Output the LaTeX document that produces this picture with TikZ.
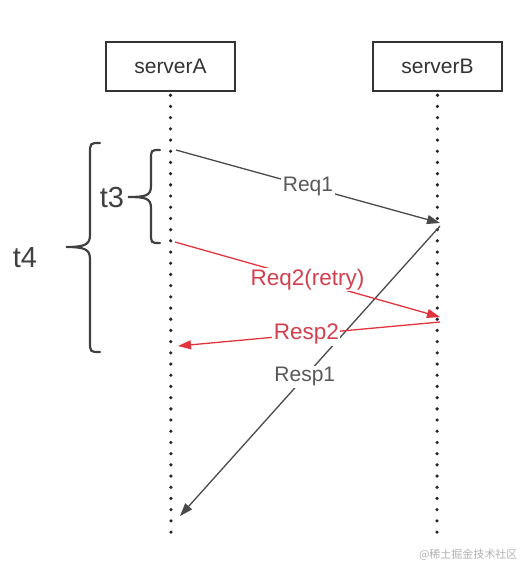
\documentclass[tikz,border=0pt]{standalone}
\usepackage{fontspec}
\setmainfont{Liberation Sans}
\newfontfamily\cjkfont{Noto Sans CJK SC}
\usetikzlibrary{arrows.meta}

\definecolor{msgred}{HTML}{E2343F}
\definecolor{labelred}{HTML}{D2404F}
\definecolor{msggray}{HTML}{4A4A4A}

\tikzset{
  server/.style={draw=black!80, line width=2.5pt, minimum width=129pt, minimum height=49pt,
    inner sep=0pt, text=black!80, font=\fontsize{21}{21}\selectfont},
  lifeline/.style={black!85, line width=3.6pt, dash pattern=on 0pt off 11.2pt, line cap=round},
  msg/.style={msggray, line width=1.3pt, -{Triangle[length=13pt,width=9pt]}},
  retry/.style={msgred, line width=1.3pt, -{Triangle[length=13pt,width=9pt]}},
  msglabel/.style={fill=white, inner sep=1.5pt, text=black!65, font=\fontsize{21}{21}\selectfont},
  redlabel/.style={msglabel, text=labelred, font=\fontsize{22.5}{22.5}\selectfont},
  bracket/.style={black!75, line width=2.2pt, line cap=round},
  timelabel/.style={text=black!75, font=\fontsize{29}{29}\selectfont},
}

\begin{document}
\begin{tikzpicture}[x=1pt,y=-1pt]
	\useasboundingbox (0,0) rectangle (525,566);
	% the two servers and their lifelines
	\node[server] (serverA) at (170.5,66.5) {serverA};
	\node[server] (serverB) at (437.5,66.5) {serverB};
	\coordinate (endA) at (171,535);
	\coordinate (endB) at (437,535);
	\draw[lifeline] ([yshift=-3pt]serverA.south) -- (endA);
	\draw[lifeline] ([yshift=-3pt]serverB.south) -- (endB);
	% points on the lifelines
	\coordinate (req1A) at (176,150);
	\coordinate (req1B) at (440,223);
	\coordinate (resp1B) at (440,226);
	\coordinate (resp1A) at (180,516);
	\coordinate (req2A) at (175,242);
	\coordinate (req2B) at (440,317);
	\coordinate (resp2B) at (440,322);
	\coordinate (resp2A) at (178,346);
	% messages
	\draw[msg] (req1A) -- node[msglabel] (req1) {Req1} (req1B);
	\draw[msg] (resp1B) -- node[msglabel, pos=0.52] (resp1) {Resp1} (resp1A);
	\draw[retry] (req2A) -- node[redlabel] (req2) {Req2(retry)} (req2B);
	\draw[retry] (resp2B) -- node[redlabel, pos=0.51] (resp2) {Resp2} (resp2A);
	% time spans
	\node[timelabel] (t3) at (112,198) {t3};
	\node[timelabel] (t4) at (25,258) {t4};
	\draw[bracket] (160,150) .. controls (151,150) .. (151,160) -- (151,186)
		.. controls (151,196) and (145,197) .. (128,197)
		.. controls (145,197) and (151,198) .. (151,208) -- (151,233)
		.. controls (151,243) .. (160,243);
	\draw[bracket] (100,143) .. controls (90,143) .. (90,154) -- (90,235)
		.. controls (90,245) and (84,247) .. (66,247)
		.. controls (84,247) and (90,249) .. (90,259) -- (90,341)
		.. controls (90,352) .. (100,352);
	% watermark
	\node[anchor=east, text=black!30, font=\cjkfont\fontsize{11}{11}\selectfont] (mark) at (521,555) {@稀土掘金技术社区};
\end{tikzpicture}
\end{document}
